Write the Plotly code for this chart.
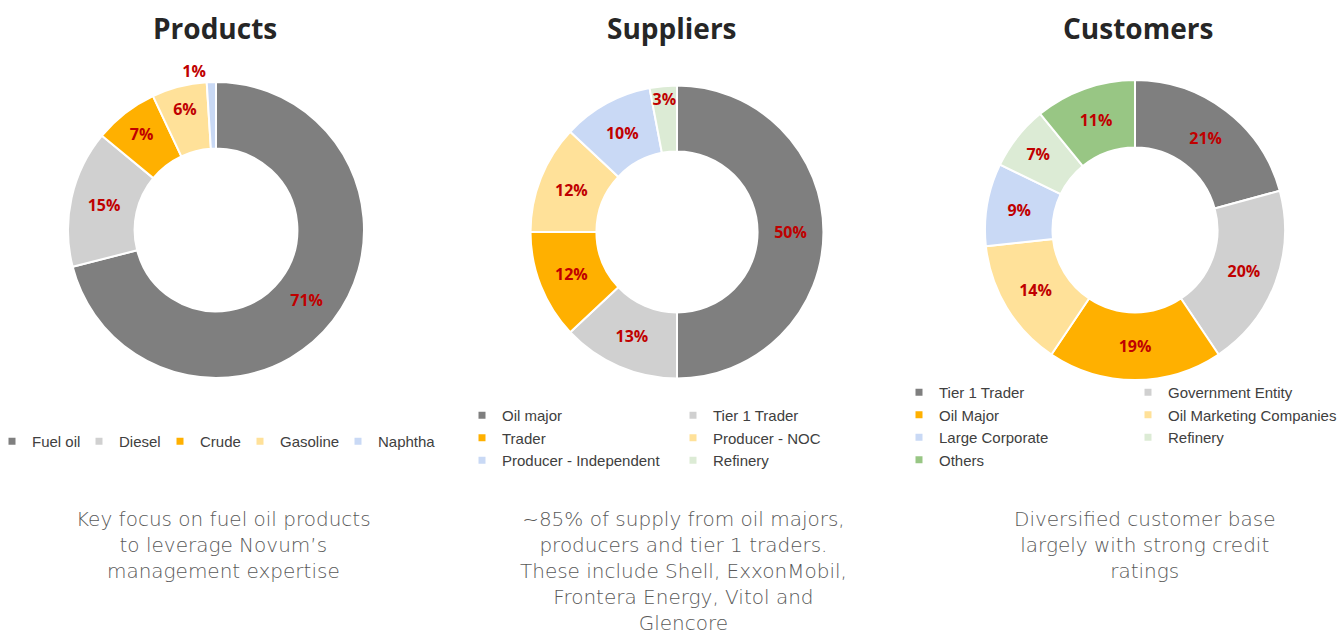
import plotly.graph_objects as go

W, H = 1340, 633

# Products
prod_labels = ["Fuel oil", "Diesel", "Crude", "Gasoline", "Naphtha"]
prod_values = [71, 15, 7, 6, 1]

# Suppliers
supp_labels = ["Oil major", "Tier 1 Trader", "Trader", "Producer - NOC",
               "Producer - Independent", "Refinery"]
supp_values = [50, 13, 12, 12, 10, 3]

# Customers
cust_labels = ["Tier 1 Trader", "Government Entity", "Oil Major",
               "Oil Marketing Companies", "Large Corporate", "Refinery", "Others"]
cust_values = [21, 20, 19, 14, 9, 7, 11]

captions = [
    "Key focus on fuel oil products<br>to leverage Novum’s<br>management expertise",
    "~85% of supply from oil majors,<br>producers and tier 1 traders.<br>"
    "These include Shell, ExxonMobil,<br>Frontera Energy, Vitol and<br>Glencore",
    "Diversified customer base<br>largely with strong credit<br>ratings",
]
titles = ["Products", "Suppliers", "Customers"]

GREY = "#7f7f7f"
LGREY = "#d0d0d0"
ORANGE = "#ffb000"
YELLOW = "#ffe199"
BLUE = "#c9d9f5"
LGREEN = "#dcebd5"
GREEN = "#98c684"

prod_colors = [GREY, LGREY, ORANGE, YELLOW, BLUE]
supp_colors = [GREY, LGREY, ORANGE, YELLOW, BLUE, LGREEN]
cust_colors = [GREY, LGREY, ORANGE, YELLOW, BLUE, LGREEN, GREEN]

LABEL_RED = "#c00000"


def px_domain(cx, cy, r):
    return dict(x=[(cx - r) / W, (cx + r) / W],
                y=[1 - (cy + r) / H, 1 - (cy - r) / H])


def donut(labels, values, colors, domain, positions=None):
    return go.Pie(
        labels=labels, values=values, sort=False, direction="clockwise",
        rotation=0, hole=0.55, domain=domain,
        marker=dict(colors=colors, line=dict(color="white", width=2)),
        text=[f"{v}%" for v in values], textinfo="text",
        textposition=positions or "inside", insidetextorientation="horizontal",
        textfont=dict(family="Open Sans", size=16, color=LABEL_RED, weight="bold"),
        showlegend=False, hoverinfo="label+value",
    )


fig = go.Figure()
fig.add_trace(donut(prod_labels, prod_values, prod_colors, px_domain(216, 230, 148),
                    ["inside"] * 4 + ["outside"]))
fig.add_trace(donut(supp_labels, supp_values, supp_colors, px_domain(677, 232, 146.5)))
fig.add_trace(donut(cust_labels, cust_values, cust_colors, px_domain(1135, 230, 150)))


# legend entries (one legend per column)
def legend_entries(labels, colors, legend_id, widths=None):
    for i, (lab, col) in enumerate(zip(labels, colors)):
        extra = dict(legendwidth=widths[i]) if widths else {}
        fig.add_trace(go.Scatter(
            x=[None], y=[None], mode="markers", name=lab, legend=legend_id,
            marker=dict(symbol="square", size=7, color=col), hoverinfo="skip",
            **extra))


# products legend is a single row; tighten the entry widths a bit
legend_entries(prod_labels, prod_colors, "legend", [42, 36, 35, 53, 60])
legend_entries(supp_labels[0::2], supp_colors[0::2], "legend2")
legend_entries(supp_labels[1::2], supp_colors[1::2], "legend3")
legend_entries(cust_labels[0::2], cust_colors[0::2], "legend4")
legend_entries(cust_labels[1::2], cust_colors[1::2], "legend5")

leg_font = dict(family="Liberation Sans, Arial", size=15, color="#404040")


def leg(x, y, orient="v"):
    return dict(x=x / W, y=1 - y / H, xanchor="left", yanchor="top",
                orientation=orient, font=leg_font, bgcolor="rgba(0,0,0,0)",
                itemclick=False, itemdoubleclick=False, tracegroupgap=0)


annotations = []
for t, x in zip(titles, [215, 672, 1138]):
    annotations.append(dict(
        text=t, x=x / W, y=1 - 28 / H, xref="paper", yref="paper",
        showarrow=False, xanchor="center", yanchor="middle",
        font=dict(family="Open Sans", size=28, color="#262626", weight="bold")))
for c, x in zip(captions, [223, 683, 1144]):
    annotations.append(dict(
        text=c, x=x / W, y=1 - 505 / H, xref="paper", yref="paper",
        showarrow=False, xanchor="center", yanchor="top", align="center",
        font=dict(family="DejaVu Sans", size=20, color="#595959", weight=300)))

fig.update_layout(
    width=W, height=H,
    margin=dict(l=0, r=0, t=0, b=0, autoexpand=False),
    paper_bgcolor="white", plot_bgcolor="white",
    xaxis=dict(visible=False), yaxis=dict(visible=False),
    legend=leg(-8, 425, "h"),
    legend2=leg(462, 399),
    legend3=leg(673, 399),
    legend4=leg(899, 376),
    legend5=leg(1128, 376),
    uniformtext=dict(minsize=16, mode="show"),
    annotations=annotations,
)

fig.write_html("out.html", config={"displayModeBar": False},
               post_script="document.body.style.margin='0';")
